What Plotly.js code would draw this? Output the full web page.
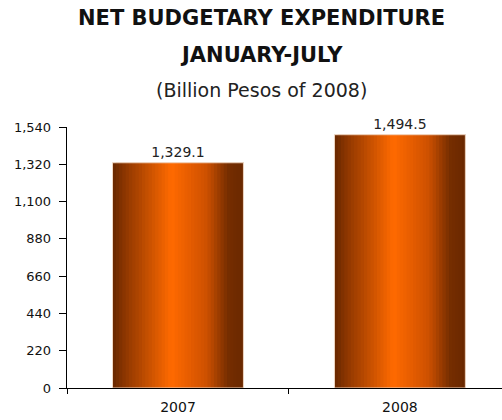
<!DOCTYPE html>
<html>
<head>
<meta charset="utf-8">
<script src="https://cdn.plot.ly/plotly-3.0.1.min.js"></script>
<style>html,body{margin:0;padding:0;background:#fff;}#chart{width:502px;height:420px;}</style>
</head>
<body>
<div id="chart"></div>
<script>
const years = ["2007", "2008"];
const expenditure = [1329.1, 1494.5];
const yTickVals = [0, 220, 440, 660, 880, 1100, 1320, 1540];
const yTickText = ["0", "220", "440", "660", "880", "1,100", "1,320", "1,540"];

const barWidth = 0.59;
const strips = 40;
const stops = [
  [0.00, [104, 40, 0]],
  [0.12, [150, 58, 0]],
  [0.45, [255, 106, 0]],
  [0.72, [205, 80, 0]],
  [0.88, [118, 46, 0]],
  [1.00, [106, 40, 0]]
];
function colorAt(t) {
  for (let i = 0; i < stops.length - 1; i++) {
    const [t0, c0] = stops[i], [t1, c1] = stops[i + 1];
    if (t >= t0 && t <= t1) {
      const f = (t - t0) / (t1 - t0);
      const c = c0.map((v, j) => Math.round(v + (c1[j] - v) * f));
      return `rgb(${c[0]},${c[1]},${c[2]})`;
    }
  }
  return 'rgb(106,40,0)';
}

const traces = [];
const sw = barWidth / strips;
for (let k = 0; k < strips; k++) {
  const col = colorAt((k + 0.5) / strips);
  const w = (k === strips - 1) ? sw : sw * 2;
  traces.push({
    type: 'bar', x: years, y: expenditure,
    width: w, offset: -barWidth / 2 + k * sw,
    marker: {color: col, line: {width: 0}},
    hoverinfo: 'skip', showlegend: false
  });
}
traces.push({
  type: 'bar', x: years, y: expenditure,
  width: barWidth, offset: -barWidth / 2,
  marker: {color: 'rgba(0,0,0,0)', line: {color: '#f0d8c4', width: 1}},
  texttemplate: '%{y:,.1f}', textposition: 'outside', cliponaxis: false,
  textfont: {family: 'DejaVu Sans', size: 14, color: '#222'},
  showlegend: false
});

const layout = {
  width: 502, height: 420,
  margin: {l: 67, r: 0, t: 127, b: 32},
  paper_bgcolor: '#fff', plot_bgcolor: '#fff',
  barmode: 'overlay',
  showlegend: false,
  font: {family: 'DejaVu Sans', color: '#111'},
  xaxis: {
    type: 'category', range: [-0.5, 1.46],
    showline: true, linecolor: '#000', linewidth: 1.3,
    ticks: 'outside', tickson: 'boundaries', ticklen: 5, tickcolor: '#000',
    ticklabelstandoff: 6,
    tickfont: {family: 'DejaVu Sans', size: 14, color: '#111'},
    showgrid: false, zeroline: false, fixedrange: true
  },
  yaxis: {
    range: [0, 1540], tickvals: yTickVals, ticktext: yTickText,
    showline: true, linecolor: '#000', linewidth: 1.3,
    ticks: 'outside', ticklen: 7, tickcolor: '#000',
    ticklabelstandoff: 5,
    tickfont: {family: 'DejaVu Sans', size: 13, color: '#111'},
    showgrid: false, zeroline: false, fixedrange: true
  },
  annotations: [
    {text: '<b>NET BUDGETARY EXPENDITURE</b>', xref: 'paper', yref: 'paper', x: 0.448, y: 1.418,
     xanchor: 'center', yanchor: 'middle', showarrow: false,
     font: {family: 'DejaVu Sans', size: 21, color: '#111'}},
    {text: '<b>JANUARY-JULY</b>', xref: 'paper', yref: 'paper', x: 0.448, y: 1.277,
     xanchor: 'center', yanchor: 'middle', showarrow: false,
     font: {family: 'DejaVu Sans', size: 21, color: '#111'}},
    {text: '(Billion Pesos of 2008)', xref: 'paper', yref: 'paper', x: 0.448, y: 1.142,
     xanchor: 'center', yanchor: 'middle', showarrow: false,
     font: {family: 'DejaVu Sans', size: 19, color: '#222'}}
  ]
};

Plotly.newPlot('chart', traces, layout, {staticPlot: true, displayModeBar: false});
</script>
</body>
</html>
